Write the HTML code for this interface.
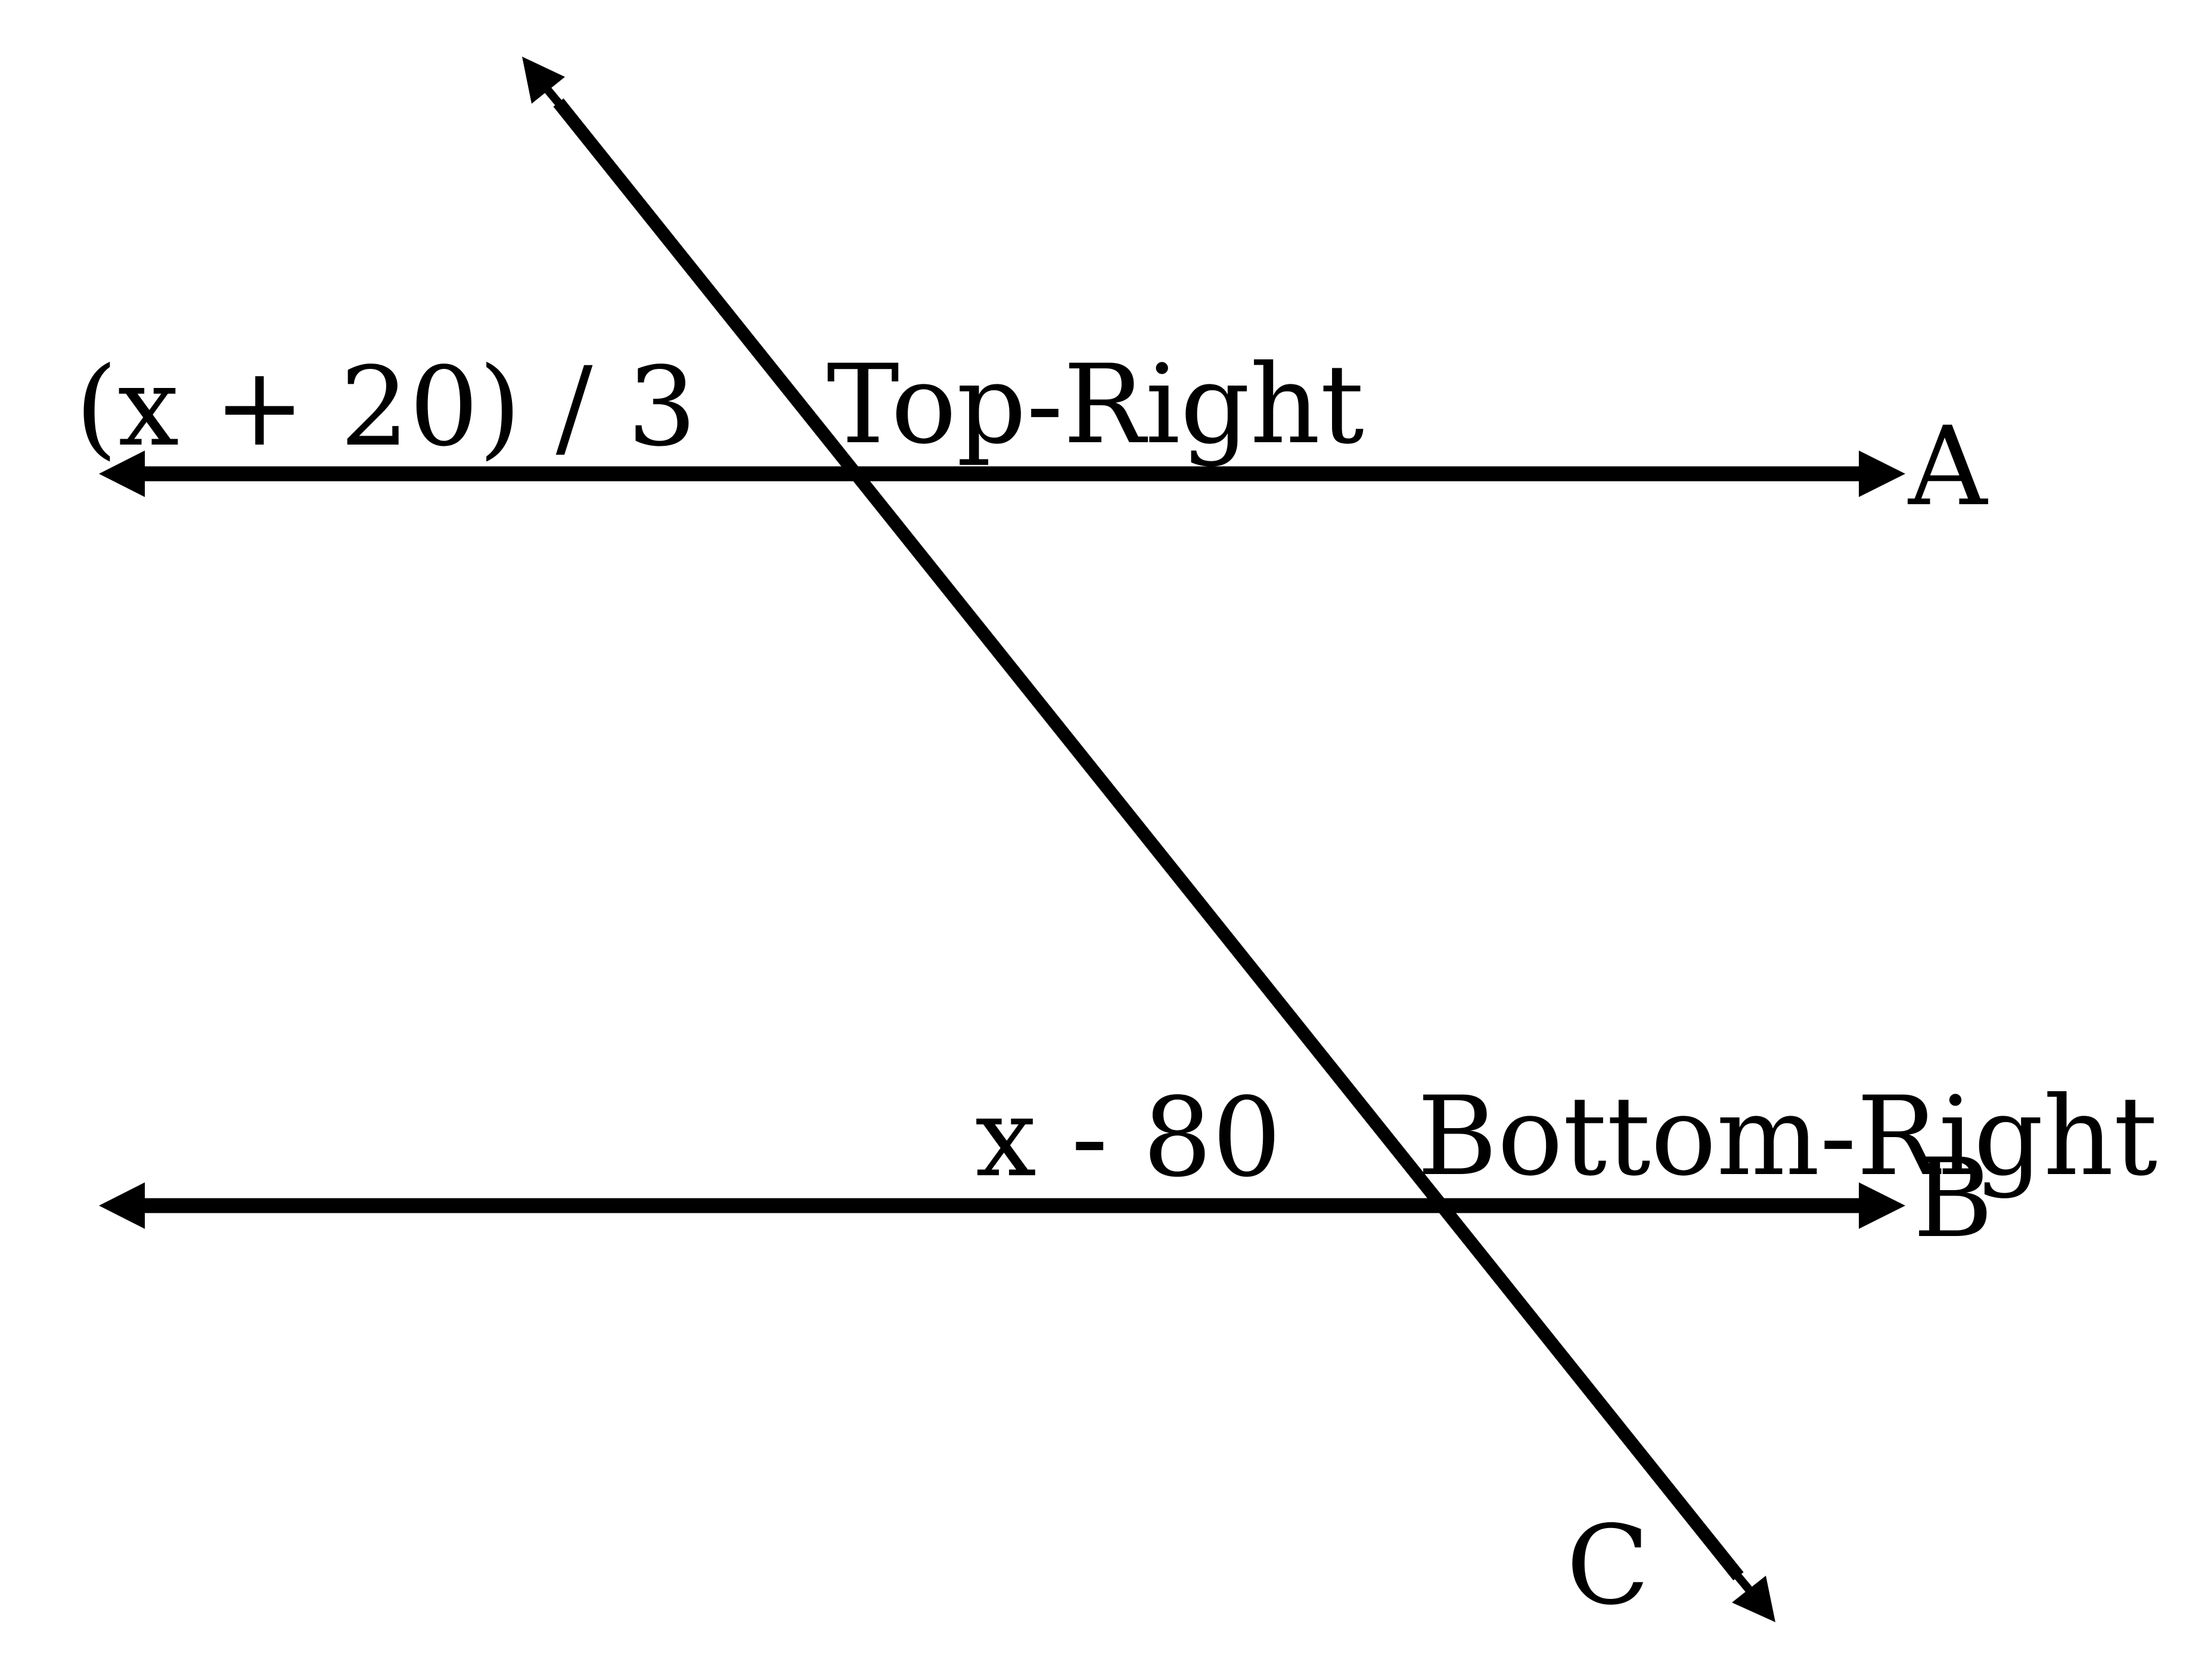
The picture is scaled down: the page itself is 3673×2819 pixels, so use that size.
<!DOCTYPE html>
<html><head><meta charset="utf-8"><style>
html,body{margin:0;padding:0;background:#fff;}
svg{display:block;}
text{font-family:"DejaVu Serif","Liberation Serif",serif;font-size:183px;fill:#000;}
</style></head><body>
<svg width="3673" height="2819" viewBox="0 0 3673 2819" xmlns="http://www.w3.org/2000/svg">
<g>
<line x1="240" y1="795" x2="3122" y2="795" stroke="#000" stroke-width="25"/>
<polygon points="166,795 243,756 243,834" fill="#000"/>
<polygon points="3197,795 3119,756 3119,834" fill="#000"/>
</g>
<g>
<line x1="240" y1="2023" x2="3122" y2="2023" stroke="#000" stroke-width="25"/>
<polygon points="166,2023 243,1984 243,2062" fill="#000"/>
<polygon points="3197,2023 3119,1984 3119,2062" fill="#000"/>
</g>
<g>
<line x1="937" y1="172" x2="2917" y2="2645" stroke="#000" stroke-width="22"/>
<line x1="915" y1="146" x2="940" y2="176" stroke="#000" stroke-width="14"/>
<line x1="2912" y1="2640" x2="2942" y2="2676" stroke="#000" stroke-width="14"/>
<polygon points="876,95 948,129 892,174" fill="#000"/>
<polygon points="2979,2722 2906,2689 2963,2644" fill="#000"/>
</g>
<text x="126" y="746">(x + 20) / 3</text>
<text x="1387" y="742" font-size="181">Top-Right</text>
<text x="3202" y="846" font-size="181">A</text>
<text x="1636" y="1972" font-size="183">x - 80</text>
<text x="2378" y="1970" font-size="181">Bottom-Right</text>
<text x="3210" y="2074" font-size="181">B</text>
<text x="2628" y="2690" font-size="181">C</text>
</svg>
</body></html>
